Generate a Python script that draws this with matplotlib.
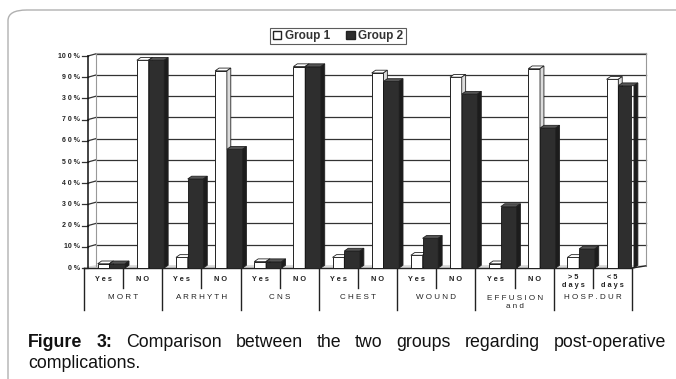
import matplotlib
matplotlib.use("Agg")
import matplotlib.pyplot as plt
from matplotlib.patches import FancyBboxPatch, Polygon, Patch
import numpy as np

plt.rcParams['font.family'] = ['Liberation Sans', 'DejaVu Sans']

groups = ["M O R T", "A R R H Y T H", "C N S", "C H E S T", "W O U N D",
          "E F F U S I O N\na n d", "H O S P . D U R"]
sub_labels = ["Y e s", "N O", "Y e s", "N O", "Y e s", "N O", "Y e s", "N O",
              "Y e s", "N O", "Y e s", "N O", "> 5\nd a y s", "< 5\nd a y s"]
group1 = [2, 98, 5, 93, 3, 95, 5, 92, 6, 90, 2, 94, 5, 89]
group2 = [2, 98, 42, 56, 3, 95, 8, 88, 14, 82, 29, 66, 9, 86]
yticks = [0, 10, 20, 30, 40, 50, 60, 70, 80, 90, 100]
ytick_labels = ["0 %", "10 %", "2 0 %", "3 0 %", "4 0 %", "5 0 %", "6 0 %",
                "7 0 %", "3 0 %", "9 0 %", "10 0 %"]

W, H = 676, 379
fig = plt.figure(figsize=(W / 100, H / 100), dpi=100)
fig.patch.set_facecolor("white")

def fx(px):
    return px / W

def fy(py):
    return 1 - py / H

# outer rounded frame (right and bottom edges lie outside the picture)
box = FancyBboxPatch((fx(8), fy(700)), fx(900), (700 - 10) / H,
                     boxstyle="round,pad=0,rounding_size=0.028",
                     transform=fig.transFigure, facecolor="none",
                     edgecolor="#b0b0b0", linewidth=1.0)
fig.patches.append(box)

# main axes: front edge
x0, x1 = 84, 632
ytop, ybot = 56, 268
ax = fig.add_axes([fx(x0), fy(ybot), fx(x1) - fx(x0), (ybot - ytop) / H])
n = len(group1)
ax.set_xlim(0, n)
ax.set_ylim(0, 100)
ax.axis("off")

grid_c = "#333333"
dxw, dyw = 0.3, 1.0  # back-wall offset
right_w = n + 0.35
for v, lab in zip(yticks, ytick_labels):
    if v > 0:
        ax.plot([dxw, right_w], [v + dyw, v + dyw], color=grid_c, lw=0.9, clip_on=False)
        ax.plot([0.1, dxw], [v, v + dyw], color=grid_c, lw=0.9, clip_on=False)
    ax.plot([-0.05, 0.1], [v, v], color=grid_c, lw=0.9, clip_on=False)
    ax.text(-0.1, v, lab, ha="right", va="center", fontsize=5.0,
            color="#222", fontweight="bold", clip_on=False)
ax.plot([dxw, dxw], [dyw, 100 + dyw], color="#999", lw=0.8, clip_on=False)
ax.plot([right_w, right_w], [dyw, 100 + dyw + 0.6], color="#999", lw=0.8, clip_on=False)
ax.plot([dxw, right_w], [100 + dyw + 0.6, 100 + dyw + 0.6], color="#999", lw=0.8, clip_on=False)
ax.plot([0.1, 0.1], [0, 100], color="#111", lw=1.1, clip_on=False)
# floor
ax.fill([0, n, right_w, dxw], [0, 0, dyw, dyw], color="#d9d9d9", zorder=1, clip_on=False)
ax.plot([0, n], [0, 0], color="#222", lw=1.0, clip_on=False)
ax.plot([n, right_w], [0, dyw], color="#222", lw=1.0, clip_on=False)

# bars with pseudo-3D faces
off = 0.2
w1, w2 = 0.30, 0.40
xs = np.arange(n) + 0.5 + off
left1 = xs - (w1 + w2) / 2
left2 = left1 + w1
ddx, ddy = 0.1, 1.3
ax.bar(left1, group1, width=w1, align="edge", color="white", edgecolor="#222",
       linewidth=0.7, zorder=3)
ax.bar(left2, group2, width=w2, align="edge", color="#2e2e2e", edgecolor="#111",
       linewidth=0.6, zorder=4)
for i in range(n):
    for left, w, v, top_c, side_c, z in [(left1[i], w1, group1[i], "white", "#dcdcdc", 3),
                                         (left2[i], w2, group2[i], "#555", "#1c1c1c", 4)]:
        ax.add_patch(Polygon([[left, v], [left + ddx, v + ddy], [left + w + ddx, v + ddy],
                              [left + w, v]], closed=True, facecolor=top_c,
                             edgecolor="#222", lw=0.6, zorder=z, clip_on=False))
        ax.add_patch(Polygon([[left + w, 0], [left + w + ddx, ddy], [left + w + ddx, v + ddy],
                              [left + w, v]], closed=True, facecolor=side_c,
                             edgecolor="#222", lw=0.6, zorder=z, clip_on=False))

# category table below the axis
for k in range(0, n + 1, 2):
    ax.plot([k, k], [0, -20], color="#222", lw=1.0, clip_on=False)
for k in range(1, n, 2):
    ax.plot([k, k], [0, -9.5], color="#222", lw=1.0, clip_on=False)
for i, lab in enumerate(sub_labels):
    ax.text(i + 0.5, -5.2 if "\n" not in lab else -6.3, lab, ha="center", va="center",
            fontsize=5.3, color="#222", fontweight="bold", clip_on=False, linespacing=1.15)
for g, lab in enumerate(groups):
    yy = -14 if "\n" not in lab else -16.5
    ax.text(2 * g + 1, yy, lab, ha="center", va="center", fontsize=5.8,
            color="#222", clip_on=False, linespacing=1.2)

# legend
handles = [Patch(facecolor="white", edgecolor="#222", label="Group 1"),
           Patch(facecolor="#2e2e2e", edgecolor="#222", label="Group 2")]
leg = fig.legend(handles=handles, loc="center", bbox_to_anchor=(fx(338), fy(36)),
                 ncol=2, frameon=True, fontsize=8.5, handlelength=0.7, handleheight=0.7,
                 handletextpad=0.3, columnspacing=1.4, borderpad=0.2, borderaxespad=0,
                 fancybox=False, edgecolor="#333")
leg.get_frame().set_linewidth(0.8)
for t in leg.get_texts():
    t.set_fontweight("bold")
    t.set_color("#333")

# caption with justified first line
fs = 12.8
line1 = [("Figure", "bold"), ("3:", "bold"), ("Comparison", "normal"), ("between", "normal"),
         ("the", "normal"), ("two", "normal"), ("groups", "normal"),
         ("regarding", "normal"), ("post-operative", "normal")]
renderer = fig.canvas.get_renderer()
txts = []
for word, wt in line1:
    t = fig.text(0, fy(347), word, fontsize=fs, fontweight=wt, color="#111",
                 ha="left", va="baseline")
    txts.append(t)
widths = [t.get_window_extent(renderer).width for t in txts]
xl, xr = 28, 666
gap = (xr - xl - sum(widths)) / (len(txts) - 1)
xc = xl
for t, wdt in zip(txts, widths):
    t.set_x(fx(xc))
    xc += wdt + gap
fig.text(fx(28), fy(368), "complications.", fontsize=fs, color="#111",
         ha="left", va="baseline")

fig.savefig("out.png", dpi=100)
